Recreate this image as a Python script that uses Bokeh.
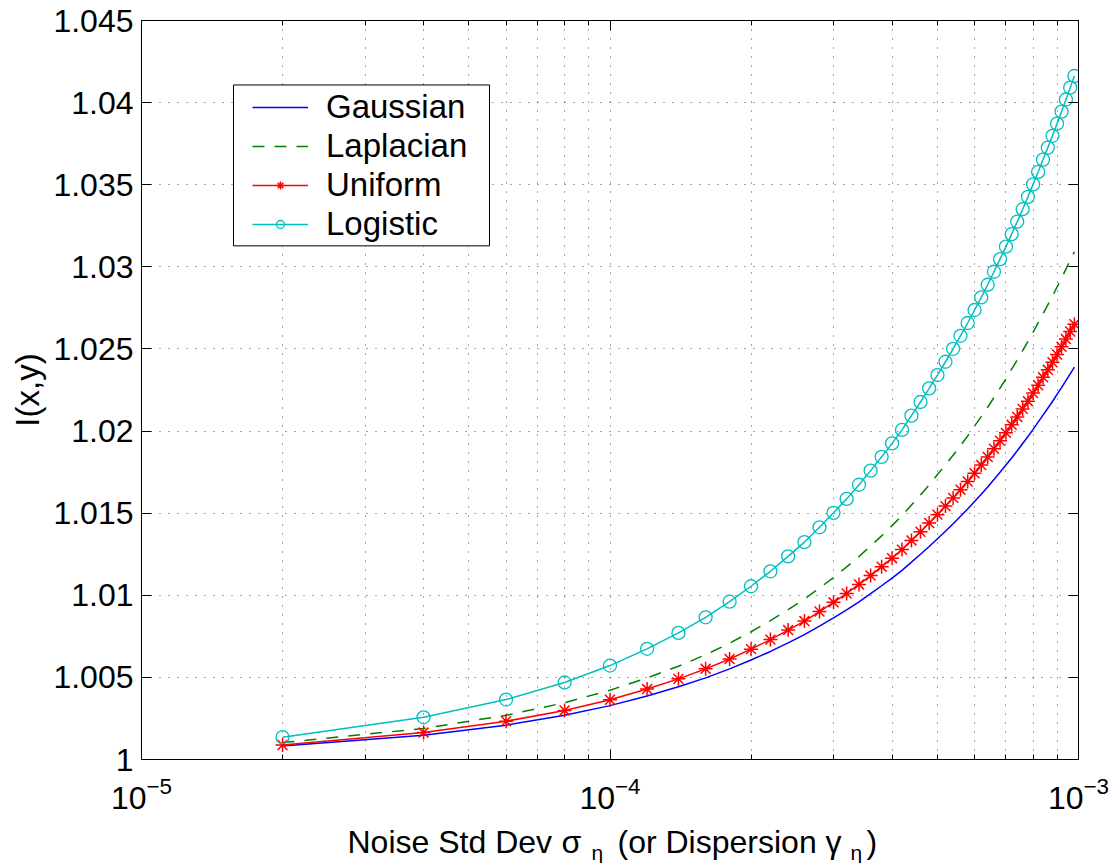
from bokeh.plotting import figure
from bokeh.layouts import column
from bokeh.models import FixedTicker, LinearAxis, LogAxis, BoxAnnotation
from bokeh.core.properties import value
from bokeh.embed import file_html
from bokeh.resources import INLINE

# ---------------- data ----------------
sigma = [2e-5, 4e-5, 6e-5, 8e-5, 1.0e-4, 1.2e-4, 1.4e-4, 1.6e-4, 1.8e-4, 2.0e-4,
         2.2e-4, 2.4e-4, 2.6e-4, 2.8e-4, 3.0e-4, 3.2e-4, 3.4e-4, 3.6e-4, 3.8e-4, 4.0e-4,
         4.2e-4, 4.4e-4, 4.6e-4, 4.8e-4, 5.0e-4, 5.2e-4, 5.4e-4, 5.6e-4, 5.8e-4, 6.0e-4,
         6.2e-4, 6.4e-4, 6.6e-4, 6.8e-4, 7.0e-4, 7.2e-4, 7.4e-4, 7.6e-4, 7.8e-4, 8.0e-4,
         8.2e-4, 8.4e-4, 8.6e-4, 8.8e-4, 9.0e-4, 9.2e-4, 9.4e-4, 9.6e-4, 9.8e-4]

gaussian = [1.00082, 1.00147, 1.00209, 1.00269, 1.00328, 1.00387, 1.00443, 1.00497, 1.00552, 1.00606,
            1.00658, 1.00710, 1.00760, 1.00812, 1.00862, 1.00911, 1.00960, 1.01010, 1.01058, 1.01105,
            1.01152, 1.01202, 1.01250, 1.01297, 1.01344, 1.01390, 1.01436, 1.01481, 1.01526, 1.01571,
            1.01615, 1.01659, 1.01705, 1.01749, 1.01793, 1.01836, 1.01880, 1.01924, 1.01967, 1.02010,
            1.02054, 1.02097, 1.02139, 1.02180, 1.02223, 1.02264, 1.02307, 1.02348, 1.02389]

laplacian = [1.00103, 1.00189, 1.00269, 1.00346, 1.00422, 1.00497, 1.00568, 1.00638, 1.00708, 1.00778,
             1.00846, 1.00913, 1.00977, 1.01044, 1.01108, 1.01173, 1.01236, 1.01300, 1.01362, 1.01424,
             1.01485, 1.01550, 1.01611, 1.01672, 1.01735, 1.01795, 1.01853, 1.01912, 1.01970, 1.02031,
             1.02088, 1.02145, 1.02204, 1.02261, 1.02317, 1.02377, 1.02433, 1.02490, 1.02546, 1.02602,
             1.02659, 1.02714, 1.02768, 1.02822, 1.02877, 1.02931, 1.02986, 1.03040, 1.03092]

uniform = [1.00088, 1.00164, 1.00233, 1.00299, 1.00364, 1.00429, 1.00491, 1.00552, 1.00612, 1.00672,
           1.00730, 1.00788, 1.00843, 1.00901, 1.00957, 1.01011, 1.01066, 1.01120, 1.01174, 1.01226,
           1.01278, 1.01334, 1.01387, 1.01440, 1.01491, 1.01543, 1.01593, 1.01643, 1.01693, 1.01743,
           1.01793, 1.01842, 1.01892, 1.01941, 1.01989, 1.02038, 1.02086, 1.02135, 1.02182, 1.02231,
           1.02279, 1.02327, 1.02373, 1.02419, 1.02466, 1.02513, 1.02560, 1.02606, 1.02651]

logistic = [1.00136, 1.00257, 1.00365, 1.00469, 1.00572, 1.00674, 1.00771, 1.00866, 1.00961, 1.01055,
            1.01146, 1.01237, 1.01324, 1.01414, 1.01502, 1.01587, 1.01673, 1.01759, 1.01843, 1.01925,
            1.02007, 1.02094, 1.02177, 1.02260, 1.02341, 1.02422, 1.02501, 1.02580, 1.02658, 1.02737,
            1.02814, 1.02891, 1.02970, 1.03047, 1.03123, 1.03199, 1.03275, 1.03351, 1.03426, 1.03502,
            1.03578, 1.03653, 1.03726, 1.03798, 1.03872, 1.03945, 1.04019, 1.04091, 1.04162]

series_names = ["Gaussian", "Laplacian", "Uniform", "Logistic"]

x_major_ticks = [1e-5, 1e-4, 1e-3]
x_minor_ticks = [2e-5, 3e-5, 4e-5, 5e-5, 6e-5, 7e-5, 8e-5, 9e-5,
                 2e-4, 3e-4, 4e-4, 5e-4, 6e-4, 7e-4, 8e-4, 9e-4]
y_ticks = [1.0, 1.005, 1.01, 1.015, 1.02, 1.025, 1.03, 1.035, 1.04, 1.045]
y_tick_labels = ["1", "1.005", "1.01", "1.015", "1.02", "1.025", "1.03", "1.035", "1.04", "1.045"]

# x-axis title pieces (text and left edge in page pixels)
x_title_main = ["Noise Std Dev", "σ", "(or Dispersion", "γ", ")"]
x_title_main_px = [347, 561, 617, 825, 866]
x_title_sub = ["η", "η"]
x_title_sub_px = [591, 850]

FONT = "Liberation Sans"

# ---------------- main figure ----------------
p = figure(width=1118, height=815, x_axis_type="log",
           x_range=(1e-5, 1e-3), y_range=(1.0, 1.045),
           output_backend="svg", toolbar_location=None,
           min_border_left=141, min_border_right=40,
           min_border_top=20, min_border_bottom=56)
p.background_fill_color = "white"
p.border_fill_color = "white"
p.outline_line_color = "black"
p.outline_line_width = 1

xt = FixedTicker(ticks=x_major_ticks, minor_ticks=x_minor_ticks)
yt = FixedTicker(ticks=y_ticks)
y_over = dict(zip(y_ticks, y_tick_labels))


def style_axis(ax):
    ax.axis_line_color = "black"
    ax.axis_line_width = 1
    ax.major_tick_in = 10
    ax.major_tick_out = 0
    ax.minor_tick_in = 5
    ax.minor_tick_out = 0
    ax.major_tick_line_color = "black"
    ax.minor_tick_line_color = "black"
    ax.major_label_text_font = FONT
    ax.major_label_text_font_size = "32px"
    ax.major_label_text_color = "black"


xax = p.below[0]
yax = p.left[0]
xax.ticker = xt
yax.ticker = yt
yax.major_label_overrides = y_over
style_axis(xax)
style_axis(yax)
xax.major_label_standoff = 17
yax.major_label_standoff = 8
yax.axis_label = "I(x,y)"
yax.axis_label_text_font = FONT
yax.axis_label_text_font_size = "33px"
yax.axis_label_text_font_style = "normal"
yax.axis_label_text_color = "black"
yax.axis_label_standoff = 4

# box ticks on top and right (MATLAB style)
top_ax = LogAxis(ticker=xt)
right_ax = LinearAxis(ticker=yt)
for ax in (top_ax, right_ax):
    style_axis(ax)
    ax.major_label_text_font_size = "0px"
    ax.major_label_text_alpha = 0
    ax.major_label_standoff = 0
p.add_layout(top_ax, "above")
p.add_layout(right_ax, "right")

# dotted grid, with log minor grid on x
p.xgrid.ticker = xt
p.ygrid.ticker = yt
for g in (p.xgrid, p.ygrid):
    g.grid_line_color = "black"
    g.grid_line_dash = "1 8"
    g.grid_line_alpha = 0.7
    g.grid_line_width = 1
p.xgrid.minor_grid_line_color = "black"
p.xgrid.minor_grid_line_dash = "1 8"
p.xgrid.minor_grid_line_alpha = 0.7

# ---------------- series ----------------
p.line(sigma, gaussian, line_color="#0000FF", line_width=1.5, legend_label=series_names[0])
p.line(sigma, laplacian, line_color="#008000", line_width=1.5, line_dash="12 10",
       legend_label=series_names[1])
p.line(sigma, uniform, line_color="#FF0000", line_width=1.5, legend_label=series_names[2])
p.scatter(sigma, uniform, marker="asterisk", size=14, line_color="#FF0000", line_width=1.5,
          legend_label=series_names[2])
p.line(sigma, logistic, line_color="#00BFBF", line_width=1.5, legend_label=series_names[3])
p.scatter(sigma, logistic, marker="circle", size=13, line_color="#00BFBF", fill_color=None,
          line_width=1.3, legend_label=series_names[3])


# ---------------- legend (box drawn separately, MATLAB-like padding) ----------------
def px_x(px):
    return 10 ** (-5 + (px - 141) / 468.5)


def px_y(py):
    return 1.0 + (759 - py) / 16433.3


legend_box = BoxAnnotation(left=px_x(233), right=px_x(489), top=px_y(84), bottom=px_y(245),
                           fill_color="white", fill_alpha=1.0,
                           line_color="black", line_alpha=1.0, line_width=1,
                           level="guide")
p.add_layout(legend_box)

lg = p.legend[0]
lg.location = (111, 516)
lg.label_text_font = FONT
lg.label_text_font_size = "33px"
lg.label_text_color = "black"
lg.border_line_color = None
lg.background_fill_alpha = 0
lg.padding = 0
lg.spacing = 1
lg.glyph_width = 56
lg.label_standoff = 18
lg.margin = 0

# ---------------- x-axis title strip (text with subscripts) ----------------
# the strip's frame is aligned with the main frame (page x 141..1078), so its
# x range is expressed in page pixels; y range spans the strip (page y 815..863)
p2 = figure(width=1118, height=48, x_range=(141, 1078), y_range=(863, 815),
            output_backend="svg", toolbar_location=None,
            x_axis_location=None, y_axis_location=None,
            min_border=0, min_border_left=0, min_border_right=0,
            min_border_top=0, min_border_bottom=0)
p2.outline_line_color = None
p2.background_fill_color = "white"
p2.border_fill_color = "white"
p2.grid.visible = False
p2.text(x=x_title_main_px, y=[841] * len(x_title_main), text=x_title_main,
        text_font=value(FONT), text_font_size="32px", text_color="black",
        text_align="left", text_baseline="alphabetic")
p2.text(x=x_title_sub_px, y=[852] * len(x_title_sub), text=x_title_sub,
        text_font=value(FONT), text_font_size="21px", text_color="black",
        text_align="left", text_baseline="alphabetic")

layout = column(p, p2, spacing=0)
open("out.html", "w").write(file_html(layout, INLINE))
